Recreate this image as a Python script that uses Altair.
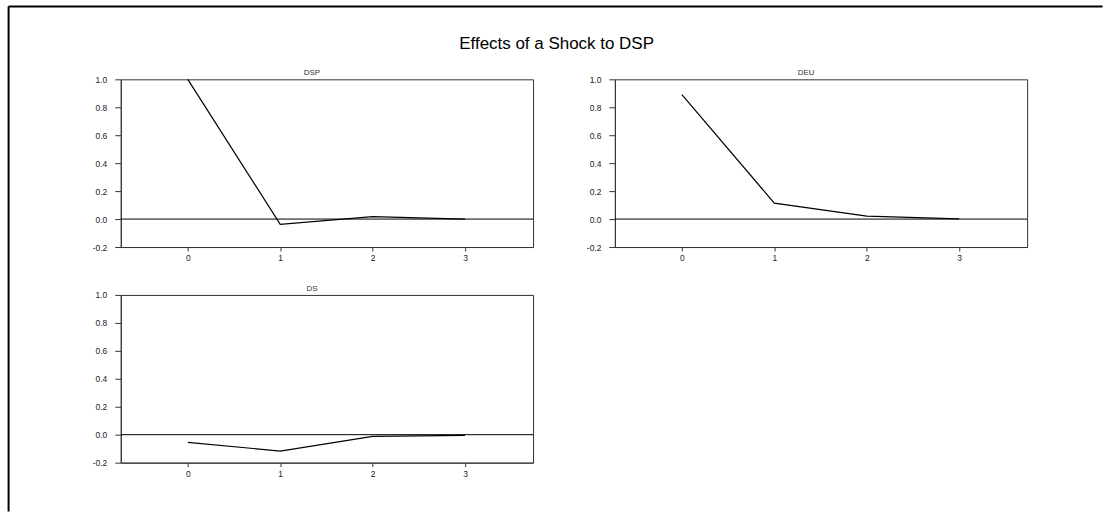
import altair as alt
import pandas as pd

horizon = [0, 1, 2, 3]
dsp_values = [1.0, -0.038, 0.018, 0.0]
deu_values = [0.89, 0.114, 0.021, 0.002]
ds_values = [-0.055, -0.117, -0.012, -0.005]
y_ticks = [-0.2, 0.0, 0.2, 0.4, 0.6, 0.8, 1.0]
panel_names = ["DSP", "DEU", "DS"]
main_title = "Effects of a Shock to DSP"

W, H = 413, 168
FONT = "Liberation Sans"


def panel(name, values, frame=False):
    df = pd.DataFrame({"h": horizon, "v": values})
    x = alt.X(
        "h:Q",
        scale=alt.Scale(domain=[-0.725, 3.735], nice=False, zero=False),
        axis=alt.Axis(values=horizon, format="d", title=None, grid=False,
                      tickSize=4, labelPadding=3, labelOverlap=False),
    )
    y_scale = alt.Scale(domain=[-0.2, 1.0], nice=False, zero=False)
    y_axis = alt.Axis(
        values=y_ticks, title=None, grid=False, tickSize=6, labelPadding=8,
        labelOverlap=False,
        labelExpr="datum.value < 0 ? '-' + format(-datum.value, '.1f') : format(datum.value, '.1f')",
    )
    line = alt.Chart(df).mark_line(color="black", strokeWidth=1.2).encode(
        x=x, y=alt.Y("v:Q", scale=y_scale, axis=y_axis))
    zero = alt.Chart(pd.DataFrame({"z": [0.0]})).mark_rule(
        color="black", strokeWidth=1).encode(
        y=alt.Y("z:Q", scale=y_scale, axis=y_axis))
    layers = [line, zero]
    offset = -2
    if frame:
        one = pd.DataFrame({"a": [0]})
        top_line = alt.Chart(one).mark_rule(color="black", strokeWidth=2).encode(
            x=alt.value(-112.4), x2=alt.value(983.6), y=alt.value(-73))
        left_line = alt.Chart(one).mark_rule(color="black", strokeWidth=2).encode(
            x=alt.value(-112.4), y=alt.value(-73), y2=alt.value(433))
        title_text = alt.Chart(one).mark_text(
            fontSize=17, font=FONT, align="center", baseline="alphabetic",
            color="black").encode(
            text=alt.value(main_title), x=alt.value(436.6), y=alt.value(-30))
        layers += [top_line, left_line, title_text]
        offset = -72
    return alt.layer(*layers).properties(
        width=W, height=H,
        title=alt.TitleParams(name, fontSize=8, font=FONT, fontWeight="normal",
                              color="#333", offset=offset, dx=-15),
    )


p1 = panel(panel_names[0], dsp_values, frame=True)
p2 = panel(panel_names[1], deu_values)
p3 = panel(panel_names[2], ds_values)

chart = alt.concat(
    p1, p2, p3, columns=2, spacing={"row": 48, "column": 82}, bounds="flush"
).properties(
    padding={"left": 7, "top": 4, "right": 0, "bottom": 0},
    background="white",
).configure_view(
    stroke="#333", strokeWidth=1
).configure_axis(
    labelFont=FONT, labelFontSize=8.5, labelColor="#222",
    domainColor="#333", tickColor="#333", domainWidth=1, tickWidth=1,
)

chart.save("out.html", embed_options={"renderer": "svg", "actions": False})
